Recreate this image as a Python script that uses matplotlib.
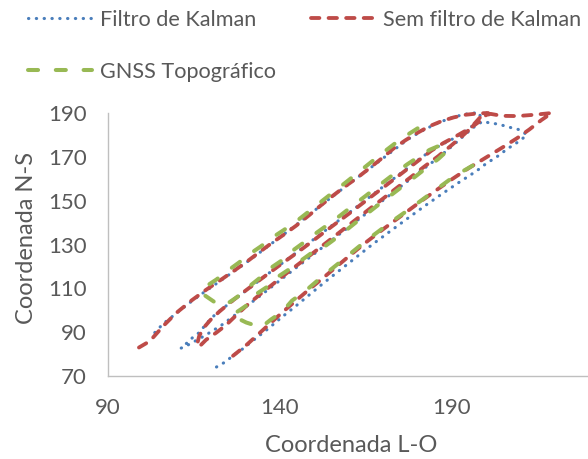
import matplotlib.pyplot as plt

plt.rcParams['font.family'] = ['Lato', 'DejaVu Sans']

# trajetoria com filtro de Kalman (L-O, N-S)
kalman_x = [103.6, 106.0, 109.7, 113.3, 117.0, 121.0, 125.0, 129.0, 133.0, 137.0,
            141.0, 145.0, 149.0, 153.0, 157.0, 161.0, 165.0, 169.0, 173.0, 177.0,
            181.0, 185.0, 189.0, 193.0, 196.0, 198.0, 198.4,
            196.5, 194.0, 191.0, 188.0, 184.5, 180.5, 176.5, 172.5, 168.5, 164.5,
            160.5, 156.5, 152.5, 148.5, 144.5, 140.5, 136.5, 132.5, 128.5, 124.5,
            121.0, 118.5, 116.7, 114.7, 113.2, 111.2,
            112.6, 114.7, 117.0, 120.0, 123.0, 126.5, 130.0, 134.0, 138.0, 142.0,
            146.0, 150.0, 154.0, 158.0, 162.0, 166.0, 170.0, 174.0, 178.0, 182.0,
            186.0, 189.5, 192.5, 195.0, 197.2, 199.0, 200.8, 203.1, 205.4, 207.4,
            209.8, 211.8,
            210.0, 208.0, 206.0, 204.2, 202.2, 200.2, 198.4, 196.7, 192.0, 187.0,
            182.0, 177.0, 172.0, 167.0, 162.0, 157.0, 152.5, 148.5, 144.5, 140.5,
            136.5, 132.5, 129.0, 126.0, 124.3, 122.3, 120.3]
kalman_y = [89.8, 93.8, 98.4, 102.9, 107.2, 111.6, 116.0, 120.4, 125.0, 129.8,
            134.5, 139.3, 144.2, 149.2, 154.0, 158.8, 163.4, 168.2, 173.0, 177.8,
            181.6, 184.8, 187.4, 189.2, 190.0, 190.0, 187.0,
            184.8, 181.8, 178.8, 176.4, 173.5, 169.0, 164.2, 159.4, 154.6, 149.8,
            145.0, 140.3, 135.6, 130.8, 126.0, 121.3, 116.6, 111.8, 107.0, 102.2,
            97.8, 93.8, 90.0, 87.7, 85.4, 82.7,
            83.6, 85.4, 87.4, 90.2, 93.2, 97.3, 101.5, 106.3, 111.2, 116.1,
            121.0, 125.8, 130.7, 135.6, 140.4, 145.3, 150.2, 155.1, 160.0, 164.8,
            169.6, 174.2, 178.3, 181.8, 184.6, 186.2, 185.5, 185.0, 184.1, 183.2,
            182.3, 180.0,
            177.7, 175.5, 173.6, 171.3, 169.1, 167.3, 165.0, 163.1, 158.3, 153.0,
            147.5, 141.8, 136.0, 130.2, 124.0, 117.8, 112.2, 107.0, 101.8, 96.8,
            91.5, 86.6, 82.2, 78.9, 76.6, 74.8, 73.0]

# trajetoria sem filtro
raw_x = [99.0, 101.5, 103.0, 106.3, 109.8, 114.4, 118.5, 123.1, 126.8, 130.4,
         134.0, 137.7, 141.2, 144.7, 148.5, 152.0, 155.5, 159.0, 162.5, 166.0,
         169.5, 173.0, 176.5, 180.0, 183.5, 187.0, 190.5, 194.0, 197.5, 200.5,
         198.3, 196.3, 193.5, 190.5, 187.5, 184.0, 180.5, 177.0, 173.0, 169.0,
         165.0, 161.0, 157.0, 153.0, 149.0, 145.0, 141.0, 137.0, 133.0, 129.0,
         125.5, 122.3, 119.8, 117.8, 116.5, 116.0, 116.4,
         118.5, 121.5, 124.3, 127.2, 130.5, 134.0, 138.0, 142.0, 146.0, 150.0,
         154.0, 158.0, 162.0, 166.0, 170.0, 174.0, 178.0, 182.0, 186.0, 189.5,
         192.5, 195.0, 196.8, 198.3, 201.2, 204.5, 209.0, 214.0, 219.0,
         216.0, 212.5, 209.0, 205.0, 200.0, 195.0, 190.0, 185.0, 180.0, 175.0,
         170.0, 165.0, 160.0, 155.0, 151.5, 148.0, 144.5, 141.0, 137.5, 134.0,
         130.5, 128.0, 126.0]
raw_y = [83.0, 85.3, 87.4, 93.2, 98.7, 104.6, 109.3, 114.2, 118.2, 122.2,
         126.5, 130.8, 134.6, 138.6, 143.4, 148.0, 152.4, 156.6, 160.5, 164.8,
         169.2, 173.8, 177.6, 181.0, 184.0, 186.3, 188.0, 189.2, 189.8, 190.0,
         186.5, 184.2, 181.5, 178.8, 176.3, 172.8, 168.6, 164.4, 159.6, 154.8,
         150.0, 145.2, 140.5, 135.8, 131.0, 126.3, 121.8, 117.2, 112.5, 107.8,
         103.5, 99.3, 95.6, 92.0, 88.2, 85.0, 83.2,
         86.5, 89.8, 93.2, 97.6, 102.4, 107.0, 112.0, 117.0, 121.8, 126.6,
         131.5, 136.4, 141.3, 146.2, 151.0, 155.9, 160.7, 165.6, 170.3, 174.8,
         178.8, 182.4, 185.6, 188.2, 189.6, 188.7, 188.6, 189.2, 190.0,
         186.8, 182.5, 178.6, 174.6, 169.8, 165.0, 159.8, 154.3, 148.6, 142.8,
         137.0, 131.0, 124.6, 118.0, 113.4, 108.9, 104.2, 99.5, 94.5, 89.5,
         84.5, 81.3, 78.8]

# levantamento GNSS topografico
gnss_x = [180.0, 177.0, 173.5, 170.0, 166.5, 163.0, 159.5, 156.0, 152.5, 149.0,
          145.5, 141.2, 137.8, 134.4, 131.5, 128.1, 124.6, 121.5, 118.4, 117.0,
          122.3,
          124.5, 127.5, 131.0, 134.5, 137.4, 140.6, 143.5, 147.0, 150.5, 153.7,
          157.5, 161.0, 165.0, 169.0, 173.0, 177.0, 180.5, 183.5, 186.5, 188.8,
          186.0, 183.0, 179.5, 176.0, 172.5, 169.0, 165.5, 162.0, 158.5, 155.0,
          152.0, 149.3, 146.4, 142.6, 139.7, 136.2, 133.3, 130.1, 127.2, 126.0,
          130.2, 134.5,
          137.4, 140.6, 143.5, 147.0, 150.5, 153.7, 157.5, 161.5, 165.5, 169.5,
          173.5, 177.5, 181.5, 185.5, 189.5, 193.0, 196.0]
gnss_y = [183.0, 180.0, 176.2, 172.0, 167.6, 163.2, 158.8, 154.5, 150.2, 145.8,
          141.5, 136.7, 133.2, 129.1, 126.0, 121.8, 117.8, 114.0, 110.8, 108.0,
          102.3,
          102.8, 106.0, 110.8, 115.2, 119.4, 122.8, 127.0, 131.0, 135.2, 138.8,
          143.2, 147.5, 152.3, 157.2, 162.0, 166.6, 170.2, 173.2, 175.2, 173.0,
          169.0, 165.5, 161.2, 157.0, 152.8, 148.6, 144.3, 140.0, 135.6, 131.4,
          128.0, 126.3, 123.0, 118.6, 115.6, 110.6, 107.6, 102.0, 98.9, 97.6,
          94.4, 92.2,
          95.8, 99.2, 104.4, 108.3, 113.0, 117.2, 122.0, 127.2, 132.3, 137.0,
          141.6, 146.0, 150.6, 155.2, 159.8, 163.3, 166.0]

x_ticks = [90, 140, 190]
y_ticks = [70, 90, 110, 130, 150, 170, 190]

txt = '#595959'

fig = plt.figure(figsize=(5.88, 4.59), dpi=100)
ax = fig.add_axes([108 / 588, 1 - 376 / 459, 480 / 588, 263 / 459])

l_kal, = ax.plot(kalman_x, kalman_y, color='#4A7EBB', lw=2.25,
                 dashes=(0.1, 2.4), dash_capstyle='round', clip_on=False)
l_raw, = ax.plot(raw_x, raw_y, color='#BE4B48', lw=2.75,
                 dashes=(2.2, 2.4), dash_capstyle='round', clip_on=False)
l_gnss, = ax.plot(gnss_x, gnss_y, color='#98B954', lw=2.9,
                  dashes=(2.5, 4.4), dash_capstyle='round', clip_on=False)

ax.set_xlim(90, 90 + 480 / 3.44)
ax.set_ylim(70, 190)
ax.set_xticks(x_ticks)
ax.set_yticks(y_ticks)
ax.tick_params(length=0, pad=15.5, labelsize=16, labelcolor=txt)

for s in ['top', 'right']:
    ax.spines[s].set_visible(False)
for s in ['left', 'bottom']:
    ax.spines[s].set_color('#BFBFBF')
    ax.spines[s].set_linewidth(1.0)

ax.set_xlabel('Coordenada L-O', fontsize=17, color=txt, va='center')
ax.xaxis.set_label_coords((351 - 108) / 480, (376 - 446) / 263)
ax.set_ylabel('Coordenada N-S', fontsize=17, color=txt, va='center')
ax.yaxis.set_label_coords((27 - 108) / 480, (376 - 238) / 263)

fig.legend([l_kal, l_gnss, l_raw],
           ['Filtro de Kalman', 'GNSS Topográfico', 'Sem filtro de Kalman'],
           ncol=2, loc='upper left', bbox_to_anchor=(28 / 588, 1 - 10 / 459),
           frameon=False, fontsize=15.6, labelcolor=txt, handlelength=2.95,
           handletextpad=0.38, columnspacing=1.62, labelspacing=1.48,
           borderaxespad=0, borderpad=0)

fig.savefig('out.png', dpi=100)
